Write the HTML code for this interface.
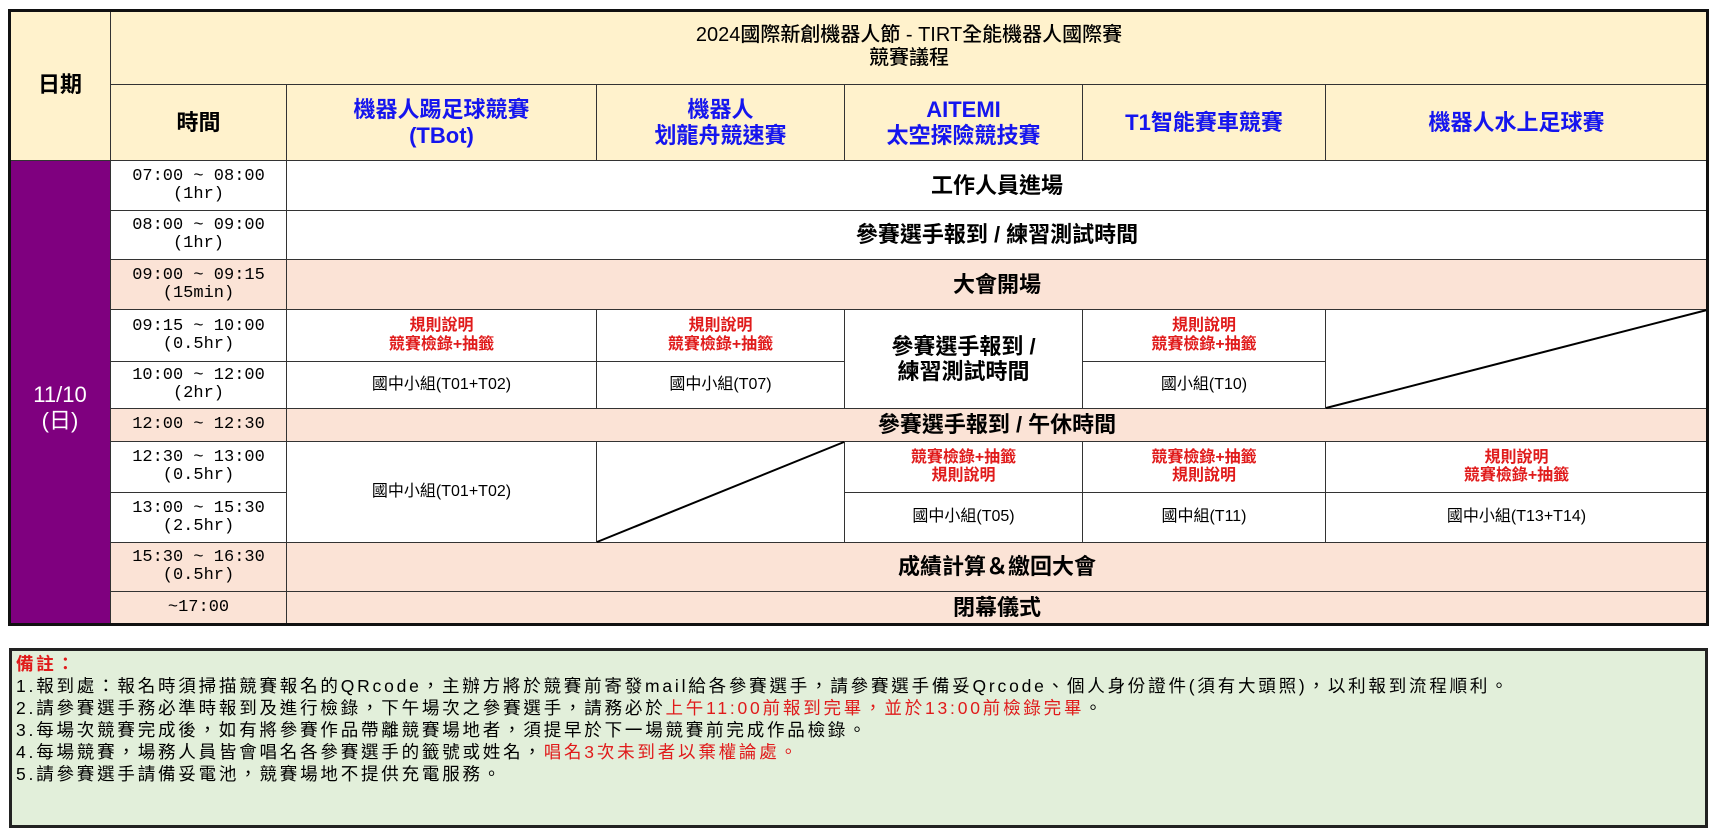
<!DOCTYPE html>
<html><head><meta charset="utf-8">
<style>
body{margin:0;width:1714px;height:836px;background:#fff;position:relative;overflow:hidden;font-family:"Liberation Sans","Noto Sans CJK TC",sans-serif;}
.c{position:absolute;box-sizing:border-box;border:1px solid #333;display:flex;align-items:center;justify-content:center;text-align:center;line-height:1.15;color:#000;}
.h{background:#fff2cc;}
.p{background:#fbe3d6;}
.w{background:#fff;}
.t{font-family:"Liberation Mono","Noto Sans CJK TC",monospace;font-size:17px;line-height:1.05;}
.b{font-size:22px;font-weight:bold;}
.blue{color:#1515ee;font-size:22px;font-weight:bold;}
.red{color:#e01b1b;font-size:16px;font-weight:bold;}
.n{font-size:16px;}
</style></head><body>
<!-- header -->
<div class="c h b" style="left:9px;top:9px;width:102px;height:152px;">日期</div>
<div class="c h" style="left:110px;top:9px;width:1598px;height:76px;font-size:20px;font-weight:500;">2024國際新創機器人節 - TIRT全能機器人國際賽<br>競賽議程</div>
<div class="c h b" style="left:110px;top:84px;width:177px;height:77px;">時間</div>
<div class="c h blue" style="left:286px;top:84px;width:311px;height:77px;">機器人踢足球競賽<br>(TBot)</div>
<div class="c h blue" style="left:596px;top:84px;width:249px;height:77px;">機器人<br>划龍舟競速賽</div>
<div class="c h blue" style="left:844px;top:84px;width:239px;height:77px;">AITEMI<br>太空探險競技賽</div>
<div class="c h blue" style="left:1082px;top:84px;width:244px;height:77px;">T1智能賽車競賽</div>
<div class="c h blue" style="left:1325px;top:84px;width:383px;height:77px;">機器人水上足球賽</div>
<!-- date -->
<div class="c" style="left:9px;top:160px;width:102px;height:465px;background:#7f007f;color:#fff;font-size:22px;padding-top:30px;">11/10<br>(日)</div>
<!-- time col -->
<div class="c w t" style="left:110px;top:160px;width:177px;height:51px;">07:00 ~ 08:00<br>(1hr)</div>
<div class="c w t" style="left:110px;top:210px;width:177px;height:50px;">08:00 ~ 09:00<br>(1hr)</div>
<div class="c p t" style="left:110px;top:259px;width:177px;height:51px;">09:00 ~ 09:15<br>(15min)</div>
<div class="c w t" style="left:110px;top:309px;width:177px;height:53px;">09:15 ~ 10:00<br>(0.5hr)</div>
<div class="c w t" style="left:110px;top:361px;width:177px;height:48px;">10:00 ~ 12:00<br>(2hr)</div>
<div class="c p t" style="left:110px;top:408px;width:177px;height:34px;">12:00 ~ 12:30</div>
<div class="c w t" style="left:110px;top:441px;width:177px;height:52px;">12:30 ~ 13:00<br>(0.5hr)</div>
<div class="c w t" style="left:110px;top:492px;width:177px;height:51px;">13:00 ~ 15:30<br>(2.5hr)</div>
<div class="c p t" style="left:110px;top:542px;width:177px;height:50px;">15:30 ~ 16:30<br>(0.5hr)</div>
<div class="c p t" style="left:110px;top:591px;width:177px;height:34px;">~17:00</div>
<!-- spans -->
<div class="c w b" style="left:286px;top:160px;width:1422px;height:51px;">工作人員進場</div>
<div class="c w b" style="left:286px;top:210px;width:1422px;height:50px;">參賽選手報到 / 練習測試時間</div>
<div class="c p b" style="left:286px;top:259px;width:1422px;height:51px;">大會開場</div>
<!-- 09:15 -->
<div class="c w red" style="left:286px;top:309px;width:311px;height:53px;">規則說明<br>競賽檢錄+抽籤</div>
<div class="c w red" style="left:596px;top:309px;width:249px;height:53px;">規則說明<br>競賽檢錄+抽籤</div>
<div class="c w b" style="left:844px;top:309px;width:239px;height:100px;">參賽選手報到 /<br>練習測試時間</div>
<div class="c w red" style="left:1082px;top:309px;width:244px;height:53px;">規則說明<br>競賽檢錄+抽籤</div>
<div class="c w" style="left:1325px;top:309px;width:383px;height:100px;"></div>
<div class="c w n" style="left:286px;top:361px;width:311px;height:48px;">國中小組(T01+T02)</div>
<div class="c w n" style="left:596px;top:361px;width:249px;height:48px;">國中小組(T07)</div>
<div class="c w n" style="left:1082px;top:361px;width:244px;height:48px;">國小組(T10)</div>
<div class="c p b" style="left:286px;top:408px;width:1422px;height:34px;">參賽選手報到 / 午休時間</div>
<!-- 12:30 -->
<div class="c w n" style="left:286px;top:441px;width:311px;height:102px;">國中小組(T01+T02)</div>
<div class="c w" style="left:596px;top:441px;width:249px;height:102px;"></div>
<div class="c w red" style="left:844px;top:441px;width:239px;height:52px;">競賽檢錄+抽籤<br>規則說明</div>
<div class="c w red" style="left:1082px;top:441px;width:244px;height:52px;">競賽檢錄+抽籤<br>規則說明</div>
<div class="c w red" style="left:1325px;top:441px;width:383px;height:52px;">規則說明<br>競賽檢錄+抽籤</div>
<div class="c w n" style="left:844px;top:492px;width:239px;height:51px;">國中小組(T05)</div>
<div class="c w n" style="left:1082px;top:492px;width:244px;height:51px;">國中組(T11)</div>
<div class="c w n" style="left:1325px;top:492px;width:383px;height:51px;">國中小組(T13+T14)</div>
<div class="c p b" style="left:286px;top:542px;width:1422px;height:50px;">成績計算＆繳回大會</div>
<div class="c p b" style="left:286px;top:591px;width:1422px;height:34px;">閉幕儀式</div>
<svg style="position:absolute;left:0;top:0" width="1714" height="836">
<line x1="1326" y1="408" x2="1707" y2="310" stroke="#000" stroke-width="2"/>
<line x1="597" y1="542" x2="844" y2="442" stroke="#000" stroke-width="2"/>
</svg>
<div style="position:absolute;left:8px;top:9px;width:1701px;height:617px;box-sizing:border-box;border:3px solid #111;"></div>
<!-- notes -->
<div style="position:absolute;left:9px;top:648px;width:1699px;height:180px;box-sizing:border-box;border:3px solid #222;background:#e2efda;padding:2px 0 0 4px;font-size:17.5px;line-height:22px;letter-spacing:2.8px;white-space:nowrap;">
<div style="color:#e01b1b;font-weight:bold;">備註：</div>
<div>1.報到處：報名時須掃描競賽報名的QRcode，主辦方將於競賽前寄發mail給各參賽選手，請參賽選手備妥Qrcode、個人身份證件(須有大頭照)，以利報到流程順利。</div>
<div>2.請參賽選手務必準時報到及進行檢錄，下午場次之參賽選手，請務必於<span style="color:#e01b1b">上午11:00前報到完畢，並於13:00前檢錄完畢</span>。</div>
<div>3.每場次競賽完成後，如有將參賽作品帶離競賽場地者，須提早於下一場競賽前完成作品檢錄。</div>
<div>4.每場競賽，場務人員皆會唱名各參賽選手的籤號或姓名，<span style="color:#e01b1b">唱名3次未到者以棄權論處。</span></div>
<div>5.請參賽選手請備妥電池，競賽場地不提供充電服務。</div>
</div>
</body></html>
